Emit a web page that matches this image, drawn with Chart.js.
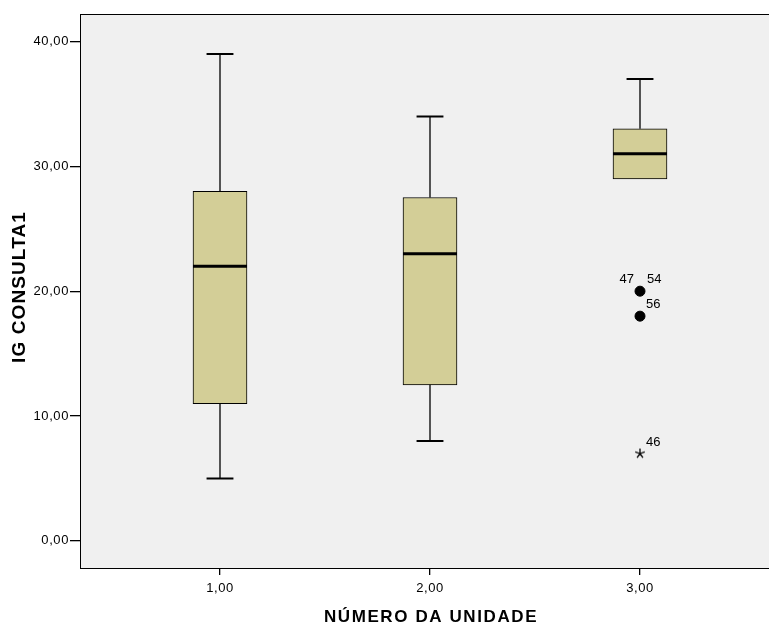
<!DOCTYPE html>
<html>
<head>
<meta charset="utf-8">
<script src="https://cdn.jsdelivr.net/npm/chart.js@4/dist/chart.umd.min.js"></script>
<style>
  html, body { margin: 0; padding: 0; background: #fff; overflow: hidden; }
  #wrap { width: 790px; height: 626px; }
</style>
</head>
<body>
<div id="wrap"><canvas id="box-chart" width="790" height="626"></canvas></div>
<script>
// boxplot values
const categories = [1, 2, 3];
const categoryLabels = ["1,00", "2,00", "3,00"];
const whiskerLow = [5, 8, 29];
const q1 = [11, 12.5, 29];
const median = [22, 23, 31];
const q3 = [28, 27.5, 33];
const whiskerHigh = [39, 34, 37];

// outliers (circles) and extremes (stars)
const outlierX = [3, 3];
const outlierY = [20, 18];
const outlierLabels = [["47", "54"], ["56"]];
const extremeX = [3];
const extremeY = [7];
const extremeLabels = [["46"]];

const yTicks = [0, 10, 20, 30, 40];
const xTitle = 'NÚMERO DA UNIDADE';
const yTitle = 'IG CONSULTA1';

const boxHalf = 0.1286;  // half box width in x units
const capHalf = 0.064;

const FONT = "'Liberation Sans', Arial, sans-serif";

// build whisker / cap / median segments from the data
const gap = { x: null, y: null };
const whiskerPts = [], capPts = [], medianPts = [];
categories.forEach((c, i) => {
  if (q1[i] > whiskerLow[i]) whiskerPts.push({ x: c, y: whiskerLow[i] }, { x: c, y: q1[i] }, gap);
  whiskerPts.push({ x: c, y: q3[i] }, { x: c, y: whiskerHigh[i] }, gap);
  if (q1[i] > whiskerLow[i]) capPts.push({ x: c - capHalf, y: whiskerLow[i] }, { x: c + capHalf, y: whiskerLow[i] }, gap);
  capPts.push({ x: c - capHalf, y: whiskerHigh[i] }, { x: c + capHalf, y: whiskerHigh[i] }, gap);
  medianPts.push({ x: c - boxHalf, y: median[i] }, { x: c + boxHalf, y: median[i] }, gap);
});

// five-armed asterisk used for extreme values
const starImg = document.createElement('canvas');
starImg.width = 12; starImg.height = 12;
(function () {
  const g = starImg.getContext('2d');
  g.strokeStyle = '#000';
  g.lineWidth = 1.3;
  g.beginPath();
  for (let k = 0; k < 5; k++) {
    const ang = -Math.PI / 2 + k * 2 * Math.PI / 5;
    g.moveTo(6, 6);
    g.lineTo(6 + 5 * Math.cos(ang), 6 + 5 * Math.sin(ang));
  }
  g.stroke();
})();

const plotFrame = {
  id: 'plotFrame',
  beforeDraw(chart) {
    chart.ctx.letterSpacing = '0.6px';
  },
  beforeDatasetsDraw(chart) {
    const { ctx, chartArea: a } = chart;
    ctx.save();
    ctx.fillStyle = '#f0f0f0';
    ctx.fillRect(a.left, a.top, a.right - a.left, a.bottom - a.top);
    ctx.restore();
  },
  afterDraw(chart) {
    const { ctx, chartArea: a } = chart;
    ctx.save();
    ctx.strokeStyle = '#000';
    ctx.lineWidth = 1;
    ctx.strokeRect(a.left + 0.5, a.top + 0.5, a.right - a.left, a.bottom - a.top);
    // axis titles
    ctx.fillStyle = '#000';
    ctx.textAlign = 'center';
    ctx.textBaseline = 'middle';
    ctx.font = 'bold 17px ' + FONT;
    ctx.letterSpacing = '1.6px';
    ctx.fillText(xTitle, (a.left + a.right) / 2 + 1, 617);
    ctx.translate(20, (a.top + a.bottom) / 2 - 4);
    ctx.rotate(-Math.PI / 2);
    ctx.font = 'bold 19px ' + FONT;
    ctx.letterSpacing = '1.1px';
    ctx.fillText(yTitle, 0, 0);
    ctx.restore();
  }
};

const pointLabels = {
  id: 'pointLabels',
  afterDatasetsDraw(chart) {
    const { ctx } = chart;
    ctx.save();
    ctx.fillStyle = '#000';
    ctx.font = '13px ' + FONT;
    ctx.letterSpacing = '0px';
    ctx.textBaseline = 'bottom';
    const draw = (dsIndex, labels) => {
      chart.getDatasetMeta(dsIndex).data.forEach((pt, i) => {
        const lab = labels[i];
        if (lab.length > 1) {
          ctx.textAlign = 'right';
          ctx.fillText(lab[0], pt.x - 6, pt.y - 5);
          ctx.textAlign = 'left';
          ctx.fillText(lab[1], pt.x + 7, pt.y - 5);
        } else {
          ctx.textAlign = 'left';
          ctx.fillText(lab[0], pt.x + 6, pt.y - 5);
        }
      });
    };
    draw(4, outlierLabels);
    draw(5, extremeLabels);
    ctx.restore();
  }
};

new Chart(document.getElementById('box-chart'), {
  type: 'bar',
  data: {
    datasets: [
      {
        type: 'bar',
        data: categories.map((c, i) => ({ x: c, y: [q1[i], q3[i]] })),
        backgroundColor: '#d3ce97',
        borderColor: '#000',
        borderWidth: 1,
        borderSkipped: false,
        barThickness: 54,
        order: 5
      },
      {
        type: 'scatter', showLine: true, spanGaps: false,
        data: whiskerPts, borderColor: '#000', borderWidth: 1.3, pointRadius: 0, order: 4
      },
      {
        type: 'scatter', showLine: true, spanGaps: false,
        data: capPts, borderColor: '#000', borderWidth: 2, pointRadius: 0, order: 3
      },
      {
        type: 'scatter', showLine: true, spanGaps: false,
        data: medianPts, borderColor: '#000', borderWidth: 3, pointRadius: 0, order: 2
      },
      {
        type: 'scatter',
        data: outlierX.map((x, i) => ({ x: x, y: outlierY[i] })),
        pointRadius: 5, backgroundColor: '#000', borderColor: '#000', order: 1
      },
      {
        type: 'scatter',
        data: extremeX.map((x, i) => ({ x: x, y: extremeY[i] })),
        pointStyle: starImg, pointRadius: 6, order: 1
      }
    ]
  },
  options: {
    responsive: false,
    animation: false,
    layout: { padding: { left: 0, right: 10, top: 14, bottom: 0 } },
    plugins: { legend: { display: false }, tooltip: { enabled: false } },
    scales: {
      x: {
        type: 'linear',
        offset: false,
        min: 1 / 3,
        max: 11 / 3,
        afterBuildTicks: s => { s.ticks = categories.map(v => ({ value: v })); },
        afterFit: s => { s.height = 58; },
        grid: { offset: false, drawOnChartArea: false, drawTicks: true, tickLength: 7, color: '#000', lineWidth: 1.3 },
        border: { display: true, color: '#000' },
        ticks: {
          color: '#000', padding: 6, maxRotation: 0,
          font: { family: FONT, size: 13 },
          callback: v => categoryLabels[categories.indexOf(v)]
        }
      },
      y: {
        type: 'linear',
        min: -2.17,
        max: 42.2,
        afterBuildTicks: s => { s.ticks = yTicks.map(v => ({ value: v })); },
        afterFit: s => { s.width = 80; },
        grid: { drawOnChartArea: false, drawTicks: true, tickLength: 10, color: '#000', lineWidth: 1.3 },
        border: { display: true, color: '#000' },
        ticks: {
          color: '#000', padding: 1,
          font: { family: FONT, size: 13 },
          callback: v => v.toFixed(2).replace('.', ',')
        }
      }
    }
  },
  plugins: [plotFrame, pointLabels]
});
</script>
</body>
</html>
